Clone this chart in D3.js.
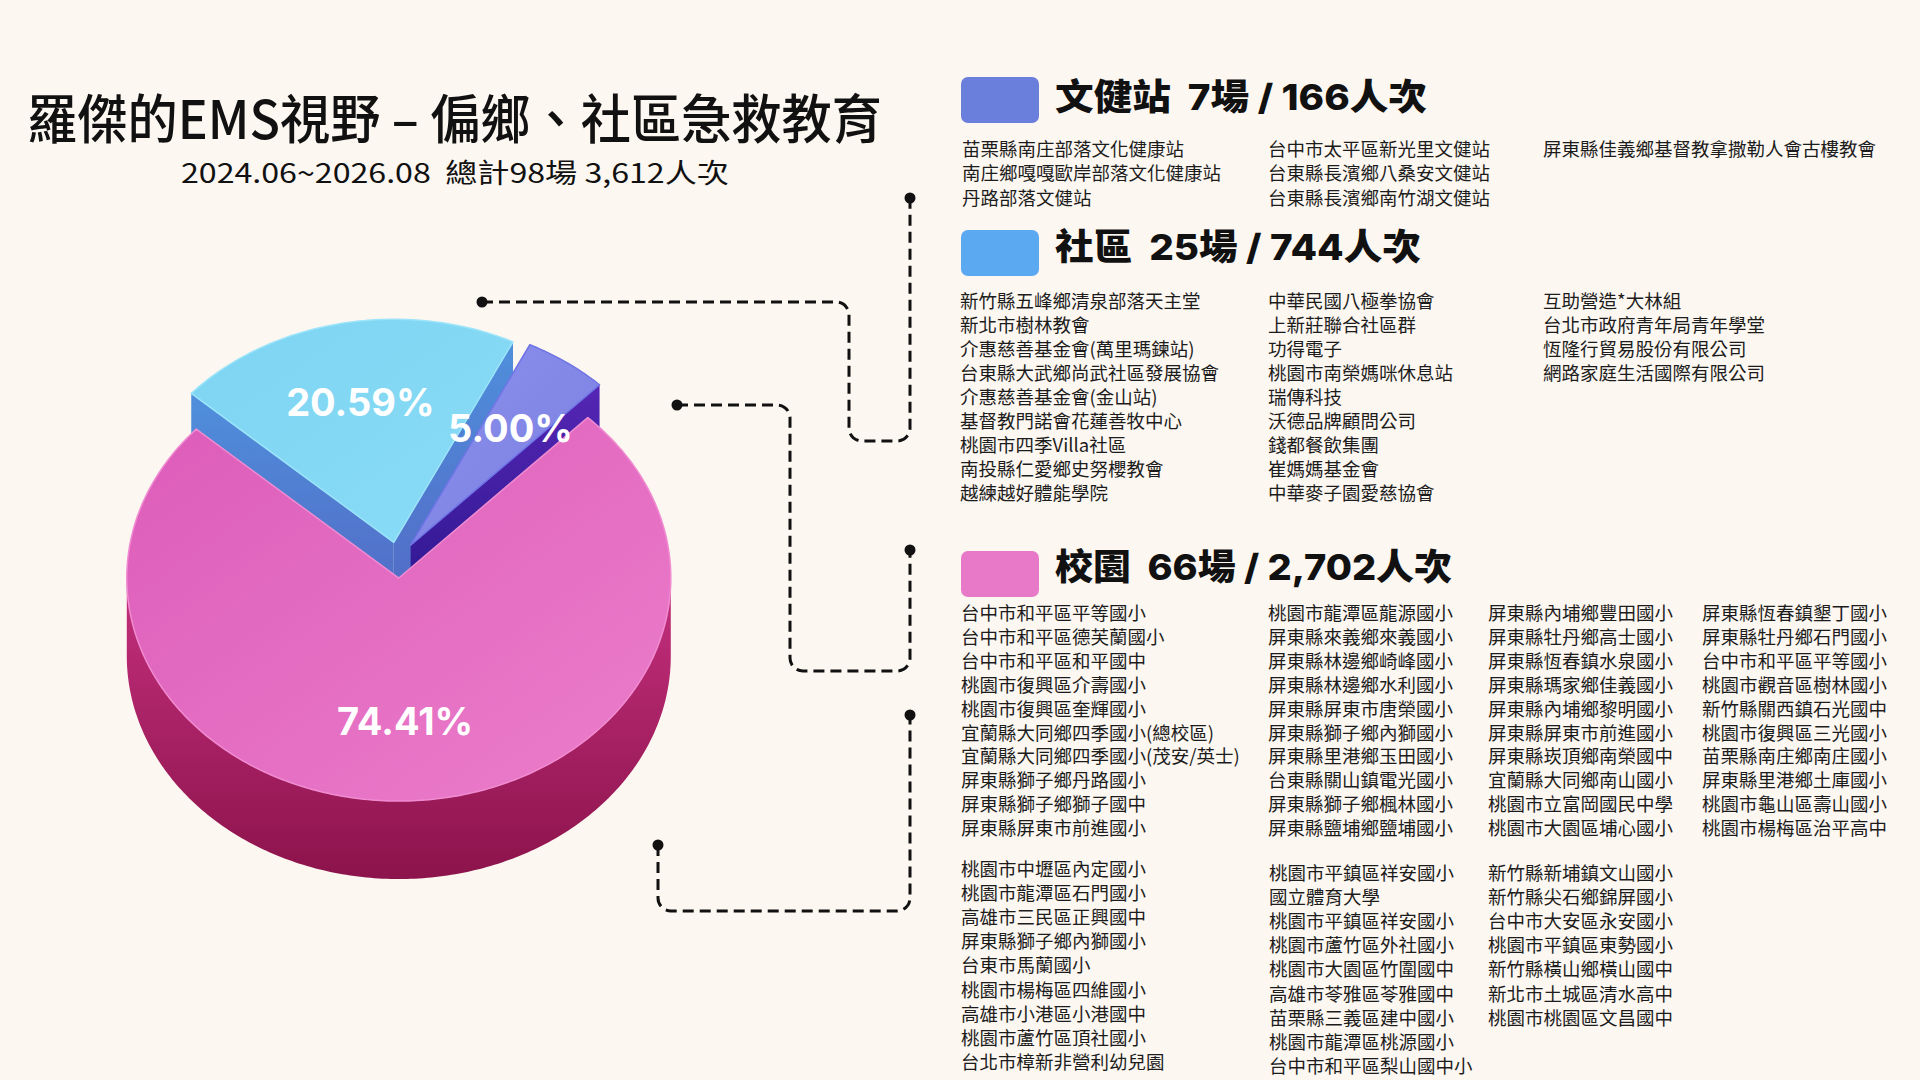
<!DOCTYPE html>
<html><head><meta charset="utf-8">
<script src="https://cdn.jsdelivr.net/npm/d3@7"></script>
<style>
html,body{margin:0;padding:0;background:#fcf7f1;}
svg{display:block;}
text{white-space:pre;}
</style></head><body>
<svg id="chart" width="1920" height="1080"></svg>
<script>
// ---------------- DATA ----------------
const categories = ["文健站", "社區", "校園"];
const sessions = [7, 25, 66];
const attendance = [166, 744, 2702];
const sharePercent = [5.00, 20.59, 74.41];
const sliceOrder = ["文健站", "校園", "社區"];
const titleText = "羅傑的EMS視野 – 偏鄉、社區急救教育";
const subtitleText = "2024.06~2026.08  總計98場 3,612人次";

const wenjianCols = [
  ["苗栗縣南庄部落文化健康站", "南庄鄉嘎嘎歐岸部落文化健康站", "丹路部落文健站"],
  ["台中市太平區新光里文健站", "台東縣長濱鄉八桑安文健站", "台東縣長濱鄉南竹湖文健站"],
  ["屏東縣佳義鄉基督教拿撒勒人會古樓教會"]
];
const communityCols = [
  ["新竹縣五峰鄉清泉部落天主堂", "新北市樹林教會", "介惠慈善基金會(萬里瑪鍊站)", "台東縣大武鄉尚武社區發展協會", "介惠慈善基金會(金山站)", "基督教門諾會花蓮善牧中心", "桃園市四季Villa社區", "南投縣仁愛鄉史努櫻教會", "越練越好體能學院"],
  ["中華民國八極拳協會", "上新莊聯合社區群", "功得電子", "桃園市南榮媽咪休息站", "瑞傳科技", "沃德品牌顧問公司", "錢都餐飲集團", "崔媽媽基金會", "中華麥子園愛慈協會"],
  ["互助營造*大林組", "台北市政府青年局青年學堂", "恆隆行貿易股份有限公司", "網路家庭生活國際有限公司"]
];
const schoolColsA = [
  ["台中市和平區平等國小", "台中市和平區德芙蘭國小", "台中市和平區和平國中", "桃園市復興區介壽國小", "桃園市復興區奎輝國小", "宜蘭縣大同鄉四季國小(總校區)", "宜蘭縣大同鄉四季國小(茂安/英士)", "屏東縣獅子鄉丹路國小", "屏東縣獅子鄉獅子國中", "屏東縣屏東市前進國小"],
  ["桃園市龍潭區龍源國小", "屏東縣來義鄉來義國小", "屏東縣林邊鄉崎峰國小", "屏東縣林邊鄉水利國小", "屏東縣屏東市唐榮國小", "屏東縣獅子鄉內獅國小", "屏東縣里港鄉玉田國小", "台東縣關山鎮電光國小", "屏東縣獅子鄉楓林國小", "屏東縣鹽埔鄉鹽埔國小"],
  ["屏東縣內埔鄉豐田國小", "屏東縣牡丹鄉高士國小", "屏東縣恆春鎮水泉國小", "屏東縣瑪家鄉佳義國小", "屏東縣內埔鄉黎明國小", "屏東縣屏東市前進國小", "屏東縣崁頂鄉南榮國中", "宜蘭縣大同鄉南山國小", "桃園市立富岡國民中學", "桃園市大園區埔心國小"],
  ["屏東縣恆春鎮墾丁國小", "屏東縣牡丹鄉石門國小", "台中市和平區平等國小", "桃園市觀音區樹林國小", "新竹縣關西鎮石光國中", "桃園市復興區三光國小", "苗栗縣南庄鄉南庄國小", "屏東縣里港鄉土庫國小", "桃園市龜山區壽山國小", "桃園市楊梅區治平高中"]
];
const schoolColsB = [
  ["桃園市中壢區內定國小", "桃園市龍潭區石門國小", "高雄市三民區正興國中", "屏東縣獅子鄉內獅國小", "台東市馬蘭國小", "桃園市楊梅區四維國小", "高雄市小港區小港國中", "桃園市蘆竹區頂社國小", "台北市樟新非營利幼兒園"],
  ["桃園市平鎮區祥安國小", "國立體育大學", "桃園市平鎮區祥安國小", "桃園市蘆竹區外社國小", "桃園市大園區竹圍國中", "高雄市苓雅區苓雅國中", "苗栗縣三義區建中國小", "桃園市龍潭區桃源國小", "台中市和平區梨山國中小"],
  ["新竹縣新埔鎮文山國小", "新竹縣尖石鄉錦屏國小", "台中市大安區永安國小", "桃園市平鎮區東勢國小", "新竹縣橫山鄉橫山國中", "新北市土城區清水高中", "桃園市桃園區文昌國中"]
];

// ---------------- STYLE / LAYOUT ----------------
const FONT = "'Noto Sans CJK TC','Noto Sans CJK SC',sans-serif";
const NUMFONT = "Inter,'Noto Sans CJK TC',sans-serif";
const legendColor = d3.scaleOrdinal().domain(categories).range(["#6a7edb", "#5aa9f1", "#e878c8"]);
const sliceStyle = {
  "文健站": {top: ["#8b8fec", "#7b81e2"], face: ["#5526b4", "#2a168c"], wall: ["#4a35c0", "#2c1a90"], rim: "#6f74e6"},
  "社區":   {top: ["#7ed4f2", "#89dcf6"], face: ["#4f8fdc", "#5368c4"], wall: ["#4aa6e6", "#3a7fd0"], rim: "#9be4fa"},
  "校園":   {top: ["#dc5cb9", "#ec7ecb"], face: ["#c02a78", "#8f144d"], wall: ["#c4307e", "#8c134b"], rim: "#f08bd2"}
};
const pieCfg = {cx: 398, cy: 560, R: 272, ky: 0.82, depth: 78, explode: 22, start: 26 * Math.PI / 180, labelR: 0.64};
const legendLayout = {x: 961, w: 78, h: 46, textX: 1055, boxY: [77, 230, 551], textY: [97, 247, 567], textLen: [372, 366, 397]};
const listBlocks = [
  {cols: wenjianCols, x: [962, 1268, 1543], y0: [148, 148, 148], step: 24.4},
  {cols: communityCols, x: [960, 1268, 1543], y0: [300, 300, 300], step: 24},
  {cols: schoolColsA, x: [961, 1268, 1488, 1702], y0: [612, 612, 612, 612], step: 23.9},
  {cols: schoolColsB, x: [961, 1269, 1488], y0: [868, 872, 872], step: 24.1}
];
const connectors = [
  [[482, 302], [849, 302], [849, 441], [910, 441], [910, 198]],
  [[677, 405], [790, 405], [790, 671], [910, 671], [910, 550]],
  [[658, 845], [658, 911], [910, 911], [910, 715]]
];

const svg = d3.select("#chart");
svg.append("rect").attr("width", 1920).attr("height", 1080).attr("fill", "#fcf7f1");
const defs = svg.append("defs");

// ---------------- TITLE ----------------
svg.append("text").attr("x", 27).attr("y", 116).attr("dominant-baseline", "central")
  .attr("font-family", FONT).attr("font-size", 53).attr("font-weight", 500).attr("fill", "#111")
  .attr("textLength", 855).attr("lengthAdjust", "spacingAndGlyphs").text(titleText);
svg.append("text").attr("x", 181).attr("y", 171).attr("dominant-baseline", "central")
  .attr("font-family", FONT).attr("font-size", 27).attr("font-weight", 400).attr("fill", "#111")
  .attr("textLength", 548).attr("lengthAdjust", "spacingAndGlyphs").text(subtitleText);

// ---------------- LEGEND HEADINGS ----------------
const fmt = d3.format(",");
const legend = svg.append("g");
categories.forEach((c, i) => {
  legend.append("rect").attr("x", legendLayout.x).attr("y", legendLayout.boxY[i])
    .attr("width", legendLayout.w).attr("height", legendLayout.h).attr("rx", 7)
    .attr("fill", legendColor(c));
  legend.append("text").attr("x", legendLayout.textX).attr("y", legendLayout.textY[i])
    .attr("dominant-baseline", "central").attr("font-family", NUMFONT).attr("font-weight", 800)
    .attr("font-size", 36).attr("fill", "#111")
    .attr("textLength", legendLayout.textLen[i]).attr("lengthAdjust", "spacingAndGlyphs")
    .text(`${c}  ${sessions[i]}場 / ${fmt(attendance[i])}人次`);
});

// ---------------- LISTS ----------------
const lists = svg.append("g").attr("font-family", FONT).attr("font-size", 18.5).attr("fill", "#1c1c1c");
listBlocks.forEach(b => {
  b.cols.forEach((col, ci) => {
    lists.selectAll(null).data(col).enter().append("text")
      .attr("x", b.x[ci]).attr("y", (d, k) => b.y0[ci] + k * b.step)
      .attr("dominant-baseline", "central").text(d => d);
  });
});

// ---------------- CONNECTORS ----------------
const cg = svg.append("g");
connectors.forEach(pts => {
  const p = d3.path();
  const r = 13;
  p.moveTo(pts[0][0], pts[0][1]);
  for (let k = 1; k < pts.length - 1; k++) p.arcTo(pts[k][0], pts[k][1], pts[k + 1][0], pts[k + 1][1], r);
  p.lineTo(pts[pts.length - 1][0], pts[pts.length - 1][1]);
  cg.append("path").attr("d", p.toString()).attr("fill", "none").attr("stroke", "#111")
    .attr("stroke-width", 3).attr("stroke-dasharray", "11,6");
  [pts[0], pts[pts.length - 1]].forEach(q => cg.append("circle").attr("cx", q[0]).attr("cy", q[1]).attr("r", 5.5).attr("fill", "#111"));
});

// ---------------- 3D PIE ----------------
const sliceData = sliceOrder.map(name => {
  const i = categories.indexOf(name);
  return {name, value: sharePercent[i], i};
});
const pie = d3.pie().sort(null).value(d => d.value)
  .startAngle(pieCfg.start).endAngle(pieCfg.start + 2 * Math.PI);
const arcs = pie(sliceData);

function grad(id, c, vertical) {
  const g = defs.append("linearGradient").attr("id", id)
    .attr("x1", 0).attr("y1", 0).attr("x2", vertical ? 0 : 1).attr("y2", 1);
  g.append("stop").attr("offset", "0%").attr("stop-color", c[0]);
  g.append("stop").attr("offset", "100%").attr("stop-color", c[1]);
}
sliceOrder.forEach((n, k) => {
  const s = sliceStyle[n];
  grad("top" + k, s.top, false);
  grad("face" + k, s.face, true);
  grad("wall" + k, s.wall, true);
});

const P = (a, r, z, o) => [pieCfg.cx + o[0] + r * Math.sin(a), pieCfg.cy + o[1] - r * Math.cos(a) * pieCfg.ky + z];
const arcPts = (a0, a1, r, z, o) => {
  const n = Math.max(2, Math.ceil(Math.abs(a1 - a0) / 0.015));
  return d3.range(n + 1).map(k => P(a0 + (a1 - a0) * k / n, r, z, o));
};
const closed = d3.line().curve(d3.curveLinearClosed);

const pieG = svg.append("g");
const ordered = arcs.map((a, k) => ({a, k, mid: (a.startAngle + a.endAngle) / 2}))
  .sort((u, v) => (-Math.cos(u.mid)) - (-Math.cos(v.mid)));

ordered.forEach(({a, k, mid}) => {
  const s = sliceStyle[a.data.name];
  const o = [pieCfg.explode * Math.sin(mid), -pieCfg.explode * Math.cos(mid) * pieCfg.ky];
  const R = pieCfg.R, D = pieCfg.depth;
  const g = pieG.append("g");
  const c0 = P(0, 0, 0, o), c1 = P(0, 0, D, o);
  // radial faces
  if (Math.sin(a.startAngle) < 0) {
    g.append("path").attr("d", closed([c0, P(a.startAngle, R, 0, o), P(a.startAngle, R, D, o), c1]))
      .attr("fill", `url(#face${k})`);
  }
  if (Math.sin(a.endAngle) > 0) {
    g.append("path").attr("d", closed([c0, P(a.endAngle, R, 0, o), P(a.endAngle, R, D, o), c1]))
      .attr("fill", `url(#face${k})`);
  }
  // outer wall (front-facing part)
  [0, 1].forEach(w => {
    const lo = Math.PI / 2 + 2 * Math.PI * w, hi = 3 * Math.PI / 2 + 2 * Math.PI * w;
    const t0 = Math.max(lo, a.startAngle), t1 = Math.min(hi, a.endAngle);
    if (t1 > t0) {
      const pts = arcPts(t0, t1, R, 0, o).concat(arcPts(t1, t0, R, D, o));
      g.append("path").attr("d", closed(pts)).attr("fill", `url(#wall${k})`);
    }
  });
  // top face
  g.append("path").attr("d", closed([c0].concat(arcPts(a.startAngle, a.endAngle, R, 0, o))))
    .attr("fill", `url(#top${k})`).attr("stroke", s.rim).attr("stroke-width", 1.5).attr("stroke-linejoin", "round");
  a.o = o; a.mid = mid;
});

// labels
pieG.selectAll("text.lbl").data(arcs).enter().append("text").attr("class", "lbl")
  .attr("x", d => P(d.mid, pieCfg.R * pieCfg.labelR, 0, d.o)[0])
  .attr("y", d => P(d.mid, pieCfg.R * pieCfg.labelR, 0, d.o)[1])
  .attr("text-anchor", "middle").attr("dominant-baseline", "central")
  .attr("font-family", NUMFONT).attr("font-weight", 700).attr("font-size", 38).attr("fill", "#fff")
  .text(d => d3.format(".2f")(d.data.value) + "%");
</script>
</body></html>
